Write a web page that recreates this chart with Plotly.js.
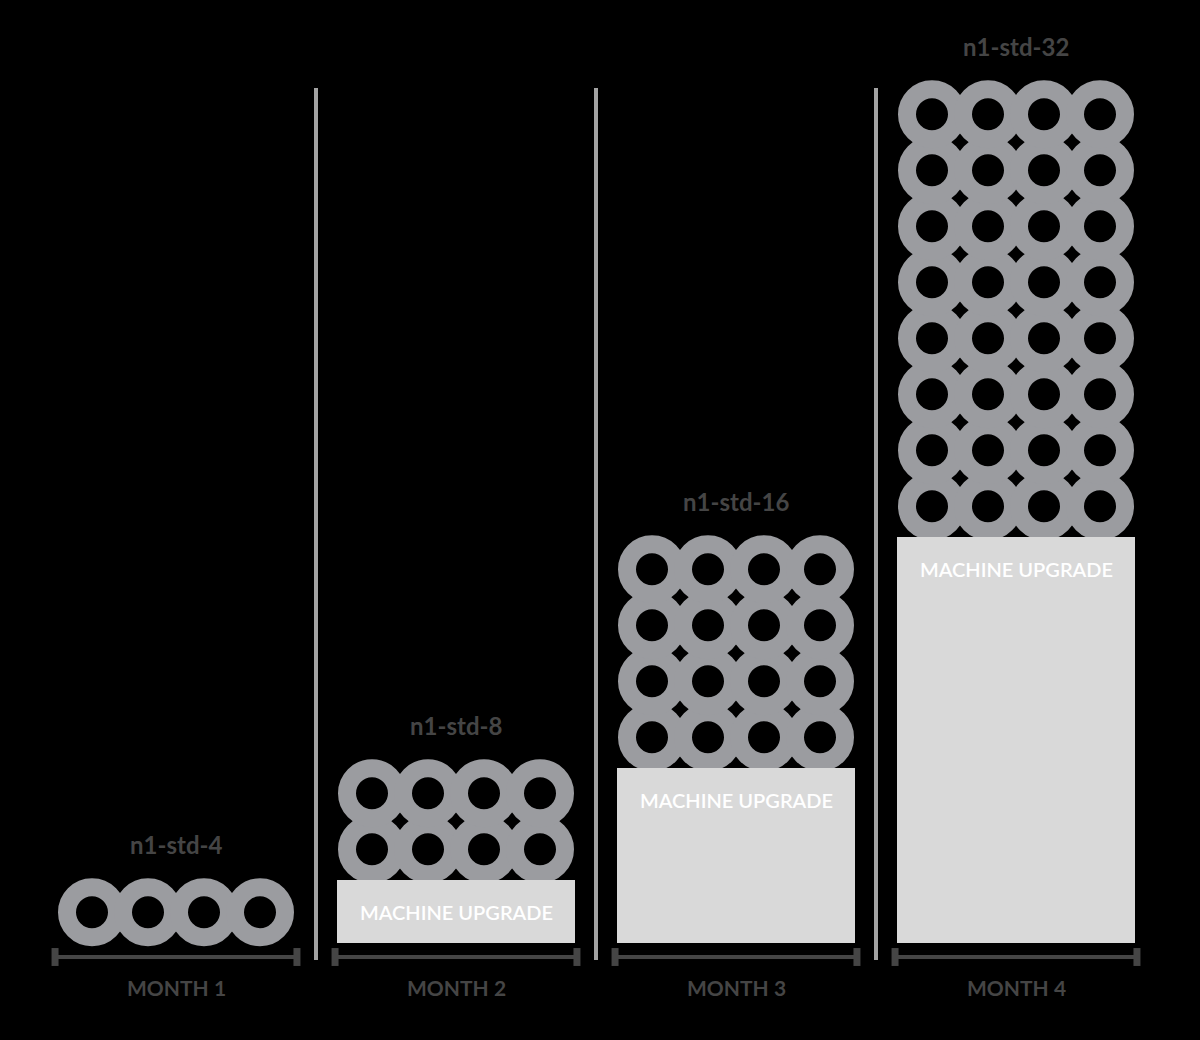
<!DOCTYPE html>
<html>
<head>
<meta charset="utf-8">
<script src="https://cdn.plot.ly/plotly-3.0.1.min.js"></script>
<style>html,body{margin:0;padding:0;background:#000;}#chart{width:1200px;height:1040px;}</style>
</head>
<body>
<div id="chart"></div>
<script>
// ---- data ----
const categories = ['MONTH 1', 'MONTH 2', 'MONTH 3', 'MONTH 4'];
const machineTypes = ['n1-std-4', 'n1-std-8', 'n1-std-16', 'n1-std-32'];
const machineRows = [1, 2, 4, 8];           // rows of machine units per month
const unitsPerRow = 4;                       // machine units in each row
const upgradeHeight = [0, 1.125, 3.125, 7.25]; // capacity carried over by machine upgrade (row units)
const upgradeLabels = ['', 'MACHINE UPGRADE', 'MACHINE UPGRADE', 'MACHINE UPGRADE'];

// ---- styles ----
const ringColor = '#9b9ca0';
const boxColor = '#d9d9d9';
const textDark = '#454545';
const sepColor = '#a3a3a3';
const ringLift = 0.55;    // ring centre above top of upgrade block (row units)
const unitStep = 0.2;     // horizontal spacing between rings (category units)
const ringOuter = 0.607;  // ring outer radius (row units)

// build ring positions from data
const rx = [], ry = [];
categories.forEach((c, i) => {
  for (let r = 0; r < machineRows[i]; r++) {
    for (let k = 0; k < unitsPerRow; k++) {
      rx.push(i + (k - (unitsPerRow - 1) / 2) * unitStep);
      ry.push(upgradeHeight[i] + ringLift + r);
    }
  }
});

const idx = categories.map((c, i) => i);

const traces = [
  {
    type: 'scatter', mode: 'markers', x: rx, y: ry,
    xaxis: 'x', yaxis: 'y', hoverinfo: 'skip', showlegend: false,
    marker: { symbol: 'circle-open', size: 50, color: ringColor, line: { width: 18, color: ringColor } }
  },
  {
    type: 'bar', x: idx, y: upgradeHeight, width: 0.85,
    xaxis: 'x', yaxis: 'y2', hoverinfo: 'skip', showlegend: false,
    marker: { color: boxColor, line: { width: 0 } }
  }
];

const shapes = [];
// separators between months
for (let i = 0; i < categories.length - 1; i++) {
  shapes.push({ type: 'line', xref: 'x', yref: 'paper', x0: i + 0.5, x1: i + 0.5, y0: 0.0769, y1: 0.9154,
    line: { color: sepColor, width: 4 } });
}
// baseline axis per month with end caps
categories.forEach((c, i) => {
  shapes.push({ type: 'line', xref: 'x', yref: 'y', x0: i - 0.432, x1: i + 0.432, y0: -0.25, y1: -0.25,
    line: { color: textDark, width: 4 } });
  [-0.432, 0.432].forEach(d => {
    shapes.push({ type: 'line', xref: 'x', yref: 'y', x0: i + d, x1: i + d, y0: -0.41, y1: -0.09,
      line: { color: textDark, width: 7 } });
  });
});

const annotations = [];
categories.forEach((c, i) => {
  annotations.push({ x: i, y: -0.25, xref: 'x', yref: 'y', text: c, showarrow: false,
    yanchor: 'top', yshift: -16,
    font: { family: 'Lato, "Open Sans", sans-serif', size: 21, weight: 700, color: textDark } });
  const top = upgradeHeight[i] + ringLift + (machineRows[i] - 1) + ringOuter;
  annotations.push({ x: i, y: top, xref: 'x', yref: 'y', text: machineTypes[i], showarrow: false,
    yanchor: 'bottom', yshift: 17,
    font: { family: 'Lato, "Open Sans", sans-serif', size: 24, weight: 700, color: textDark } });
  if (upgradeLabels[i]) {
    annotations.push({ x: i, y: upgradeHeight[i], xref: 'x', yref: 'y', text: upgradeLabels[i], showarrow: false,
      yanchor: 'top', yshift: -18,
      font: { family: 'Lato, "Open Sans", sans-serif', size: 20, weight: 600, color: '#ffffff' } });
  }
});

const xr = [-176 / 280, 1024 / 280];
const yr = [-97 / 56, 943 / 56];
const layout = {
  width: 1200, height: 1040,
  margin: { l: 0, r: 0, t: 0, b: 0 },
  paper_bgcolor: '#000000', plot_bgcolor: '#000000',
  xaxis: { range: xr, visible: false, fixedrange: true },
  yaxis: { range: yr, visible: false, fixedrange: true },
  yaxis2: { range: yr, visible: false, overlaying: 'y', fixedrange: true },
  bargap: 0,
  shapes: shapes,
  annotations: annotations,
  showlegend: false
};

Plotly.newPlot('chart', traces, layout, { displayModeBar: false, staticPlot: true });
</script>
</body>
</html>
